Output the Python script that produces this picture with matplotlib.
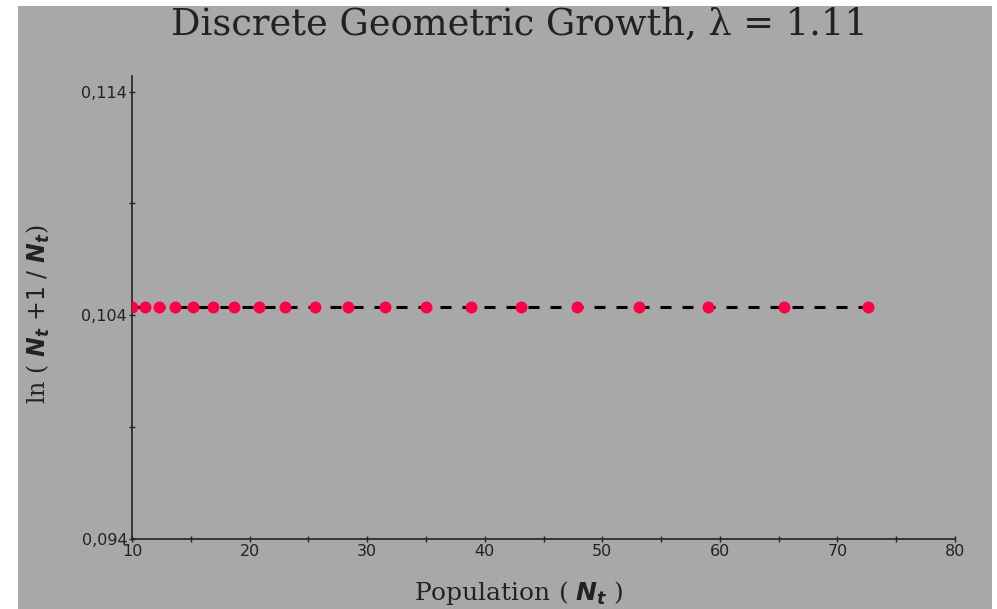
import matplotlib
matplotlib.use('Agg')
import matplotlib.pyplot as plt
from matplotlib.patches import Rectangle
from matplotlib.ticker import FuncFormatter, FixedLocator, MultipleLocator

# Population sizes N_t and log growth ratio ln(N_t+1 / N_t), lambda = 1.11
LAMBDA = 1.11
POPULATION = [10.00, 11.10, 12.32, 13.68, 15.18, 16.85, 18.70, 20.76, 23.05, 25.58,
              28.39, 31.52, 34.98, 38.83, 43.10, 47.85, 53.11, 58.95, 65.44, 72.64]
LOG_RATIO = [0.10436] * len(POPULATION)

X_TICKS = [10, 20, 30, 40, 50, 60, 70, 80]
Y_TICKS = [0.094, 0.104, 0.114]
Y_MINOR = [0.099, 0.109]

BG      = '#a8a8a8'
DOT_RED = '#ff0048'

plt.rcParams['mathtext.fontset'] = 'custom'
plt.rcParams['mathtext.rm'] = 'DejaVu Serif'
plt.rcParams['mathtext.bf'] = 'DejaVu Sans:bold:italic'
plt.rcParams['mathtext.sf'] = 'DejaVu Sans'

W, H = 997, 609
fig = plt.figure(figsize=(W / 100, H / 100), dpi=100, facecolor='white')
fig.patches.append(Rectangle((18 / W, 0), (992 - 18) / W, (H - 6) / H,
                             transform=fig.transFigure, facecolor=BG,
                             edgecolor='none', zorder=-5))

ax = fig.add_axes([132 / W, (H - 539) / H, (955 - 132) / W, (539 - 76) / H])
ax.set_facecolor('none')

ax.plot(POPULATION, LOG_RATIO, color='black', lw=2.2, dashes=(3.6, 3.6), zorder=2)
ax.plot(POPULATION, LOG_RATIO, 'o', color=DOT_RED, ms=8.6, mec='none', zorder=3)

ax.set_xlim(10, 80)
ax.set_ylim(0.094, 0.1147)
ax.set_xticks(X_TICKS)
ax.set_yticks(Y_TICKS)
ax.xaxis.set_minor_locator(MultipleLocator(5))
ax.yaxis.set_minor_locator(FixedLocator(Y_MINOR))
ax.yaxis.set_major_formatter(FuncFormatter(lambda v, _: f'{v:.3f}'.replace('.', ',')))
ax.tick_params(which='both', direction='inout', length=5, width=1, color='#222222',
               labelsize=11.5, labelcolor='#222222', pad=1)

for side in ('top', 'right'):
    ax.spines[side].set_visible(False)
for side in ('left', 'bottom'):
    ax.spines[side].set_color('#222222')
    ax.spines[side].set_linewidth(1.2)

fig.text(519 / W, 1 - 25 / H, f'Discrete Geometric Growth, λ = {LAMBDA}',
         family='DejaVu Serif', fontsize=26.5, color='#222222', ha='center', va='center')
fig.text(519 / W, 1 - 593 / H, r'Population ( $\mathbf{N}_{\mathbf{t}}$ )',
         family='DejaVu Serif', fontsize=18, color='#222222', ha='center', va='center')
fig.text(38 / W, 1 - 314 / H,
         r'ln ( $\mathbf{N}_{\mathbf{t}}\ \mathsf{+1\ /}\ \mathbf{N}_{\mathbf{t}}$)',
         family='DejaVu Serif', fontsize=17, color='#222222', ha='center', va='center',
         rotation=90)

fig.savefig('out.png', dpi=100, facecolor='white')
